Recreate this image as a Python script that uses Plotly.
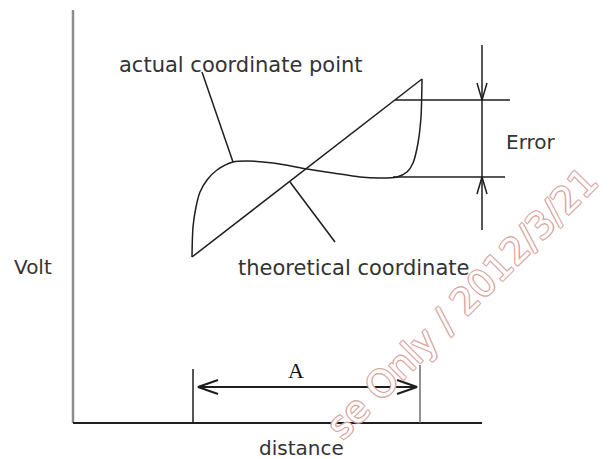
import plotly.graph_objects as go

# actual coordinate curve (distance, volt), origin at the axes corner
actual_x = [119, 120, 123, 127, 134, 144, 160, 174, 200, 234, 260, 287, 307, 324, 334, 340, 345, 348, 349]
actual_y = [166, 196, 216, 231, 243, 253, 261, 262, 260, 254, 250, 246, 245, 246, 251, 260, 280, 306, 344]

# theoretical coordinate (straight line)
theory_x = [119, 349]
theory_y = [166, 344]

# reference levels for the error band and the span A
error_top = 323
error_bottom = 246
error_x = 409
span_start = 120
span_end = 347
span_y = 36

labels = ["actual coordinate point", "theoretical coordinate", "Error", "Volt", "distance"]
label_x = [168, 280, 458, -40, 228]
label_y = [358, 155, 281, 156, -25]
label_size = [21, 21, 20, 20, 20]

INK = "#1e1e1e"
TEXT = "#333333"


def arrow_head(tip_x, tip_y, dx, dy, length, half):
    # open chevron pointing along (dx, dy)
    bx = tip_x - dx * length
    by = tip_y - dy * length
    px, py = -dy * half, dx * half
    return [bx + px, tip_x, bx - px, None], [by + py, tip_y, by - py, None]


def seg(xs, ys, color=INK, width=1.5, shape="linear"):
    return go.Scatter(x=xs, y=ys, mode="lines", hoverinfo="skip", showlegend=False,
                      line=dict(color=color, width=width, shape=shape, smoothing=0.8))


fig = go.Figure()

# axes
fig.add_trace(seg([0, 0], [0, 413], color="#8c8c8c", width=2.5))
fig.add_trace(seg([0, 409], [0, 0], width=2))

# curves
fig.add_trace(seg(theory_x, theory_y))
fig.add_trace(seg(actual_x, actual_y, shape="spline"))

# leader lines
fig.add_trace(seg([129, 160], [351, 261]))
fig.add_trace(seg([217, 262], [241, 181]))

# error dimension
fig.add_trace(seg([322, 437], [error_top, error_top]))
fig.add_trace(seg([320, 432], [error_bottom, error_bottom]))
fig.add_trace(seg([error_x, error_x], [378, 193]))
hx1, hy1 = arrow_head(error_x, error_top, 0, -1, 17, 5)
hx2, hy2 = arrow_head(error_x, error_bottom, 0, 1, 17, 5)
fig.add_trace(seg(hx1 + hx2, hy1 + hy2))

# span A
fig.add_trace(seg([span_start, span_start], [0, 54]))
fig.add_trace(seg([span_end, span_end], [0, 58], color="#6e6e6e"))
fig.add_trace(seg([span_start + 5, span_end - 3], [span_y, span_y], width=2))
ax1, ay1 = arrow_head(span_start + 5, span_y, -1, 0, 20, 7)
ax2, ay2 = arrow_head(span_end - 3, span_y, 1, 0, 20, 7)
fig.add_trace(seg(ax1 + ax2, ay1 + ay2, width=2))

for t, x, y, s in zip(labels, label_x, label_y, label_size):
    fig.add_annotation(x=x, y=y, text=t, showarrow=False,
                       font=dict(family="DejaVu Sans", size=s, color=TEXT))

fig.add_annotation(x=223, y=53, text="A", showarrow=False,
                   font=dict(family="Liberation Serif", size=22, color="#111111"))

# watermark (only the visible part)
pink = "#d9a3a0"
fig.add_annotation(x=389, y=120, text="se Only / 2012/3/21", showarrow=False, textangle=-45,
                   font=dict(family="DejaVu Sans", size=37, color="white",
                             shadow=f"1px 1px 0 {pink}, -1px -1px 0 {pink}, 1px -1px 0 {pink}, -1px 1px 0 {pink}"))

fig.update_xaxes(range=[-73, 538], visible=False)
fig.update_yaxes(range=[-36, 423], visible=False)
fig.update_layout(width=611, height=459, margin=dict(l=0, r=0, t=0, b=0),
                  plot_bgcolor="white", paper_bgcolor="white")

fig.write_html("out.html", config={"displayModeBar": False},
               post_script="document.body.style.margin = '0';")
